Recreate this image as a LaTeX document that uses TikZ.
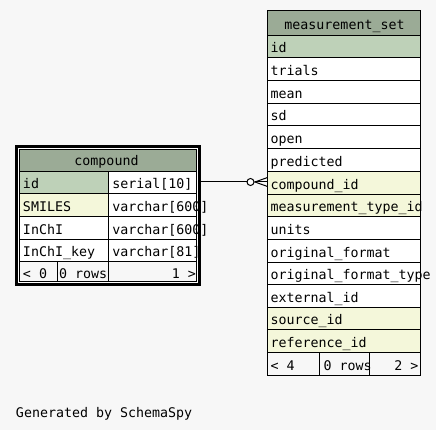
\documentclass[tikz,border=0pt]{standalone}
\usepackage{fontspec}
\newfontfamily\schemafont{DejaVu Sans Mono}
\usetikzlibrary{calc}
\definecolor{bgc}{HTML}{F7F7F7}
\definecolor{headc}{HTML}{9BAB96}
\definecolor{pkc}{HTML}{BED1B8}
\definecolor{idxc}{HTML}{F4F7DA}
\tikzset{
  txt/.style={anchor=base west, inner sep=0pt, outer sep=0pt, font=\schemafont\fontsize{13.3}{15}\selectfont},
  txtc/.style={txt, anchor=base},
  txte/.style={txt, anchor=base east},
  gridline/.style={draw=black, line width=1pt},
}
\begin{document}
\begin{tikzpicture}[x=1pt,y=-1pt]
\fill[bgc] (0,0) rectangle (436,430);
\useasboundingbox (0,0) rectangle (436,430);

% ---------------- measurement_set ----------------
\fill[headc] (267.5,11) rectangle (420.5,35.5);
\foreach \name/\col/\top/\bot [count=\i] in {
  id/pkc/35.5/57.5,
  trials/white/57.5/80.5,
  mean/white/80.5/103.5,
  sd/white/103.5/125.5,
  open/white/125.5/148.5,
  predicted/white/148.5/171.5,
  compound\_id/idxc/171.5/194.5,
  measurement\_type\_id/idxc/194.5/216.5,
  units/white/216.5/239.5,
  original\_format/white/239.5/262.5,
  original\_format\_type/white/262.5/284.5,
  external\_id/white/284.5/307.5,
  source\_id/idxc/307.5/329.5,
  reference\_id/idxc/329.5/352.5}{
  \fill[\col] (267.5,\top) rectangle (420.5,\bot);
  \draw[gridline] (267.5,\top) -- (420.5,\top);
  \node[txt] (ms-\i) at (270.5,\bot-4.6) {\name};
}
\fill[bgc] (267.5,352.5) rectangle (420.5,375.5);
\draw[gridline] (267.5,352.5) -- (420.5,352.5);
\draw[gridline] (319.5,352.5) -- (319.5,375.5);
\draw[gridline] (369.5,352.5) -- (369.5,375.5);
\node[draw, line width=1pt, anchor=north west, minimum width=153pt, minimum height=364.5pt, inner sep=0pt, outer sep=0pt] (ms) at (267.5,11) {};
\node[txtc] (ms-head) at (344.5,30) {measurement\_set};
\node[txt] (ms-f1) at (270.5,370.5) {< 4};
\node[txt] (ms-f2) at (323.5,370.5) {0 rows};
\node[txte] (ms-f3) at (418.5,370.5) {2 >};

% ---------------- compound ----------------
\node[draw, fill=white, line width=3pt, anchor=north west, minimum width=183pt, minimum height=138pt, inner sep=0pt, outer sep=0pt] (cmp) at (16.5,146.5) {};
\fill[headc] (19.5,149.5) rectangle (196.5,171.5);
\fill[pkc] (19.5,171.5) rectangle (108.5,193.5);
\fill[idxc] (19.5,193.5) rectangle (108.5,216.5);
\fill[bgc] (19.5,261.5) rectangle (196.5,281.5);
\draw[gridline] (19.5,149.5) rectangle (196.5,281.5);
\foreach \y in {171.5,193.5,216.5,239.5,261.5}{
  \draw[gridline] (19.5,\y) -- (196.5,\y);
}
\draw[gridline] (108.5,171.5) -- (108.5,281.5);
\draw[gridline] (57.5,261.5) -- (57.5,281.5);
\node[txtc] (cmp-head) at (106.5,166) {compound};
\foreach \name/\type/\bl [count=\i] in {
  id/serial[10]/189,
  SMILES/varchar[600]/211.5,
  InChI/varchar[600]/234.5,
  InChI\_key/varchar[81]/256.5}{
  \node[txt] (cmp-n\i) at (23,\bl) {\name};
  \node[txt] (cmp-t\i) at (112.3,\bl) {\type};
}
\draw[line width=3pt] (cmp.north east) -- (cmp.south east);
\node[txt] (cmp-f1) at (23,278) {< 0};
\node[txt] (cmp-f2) at (59,278) {0 rows};
\node[txte] (cmp-f3) at (196,278) {1 >};

% ---------------- relationship ----------------
\coordinate (src) at (cmp.east |- 0,182);
\coordinate (dst) at (ms.west |- 0,182);
\node[circle, draw, fill=white, line width=1pt, minimum size=7pt, inner sep=0pt] (opt) at (250.5,182) {};
\coordinate (apex) at (255,182);
\draw[line width=1pt] (src) -- (opt.west);
\draw[line width=1pt] (opt.east) -- (dst);
\draw[line width=1pt] ($(dst)+(0,-4.5)$) -- (apex) -- ($(dst)+(0,4.5)$);

\node[txt] (gen) at (16,417.3) {Generated by SchemaSpy};
\end{tikzpicture}
\end{document}
